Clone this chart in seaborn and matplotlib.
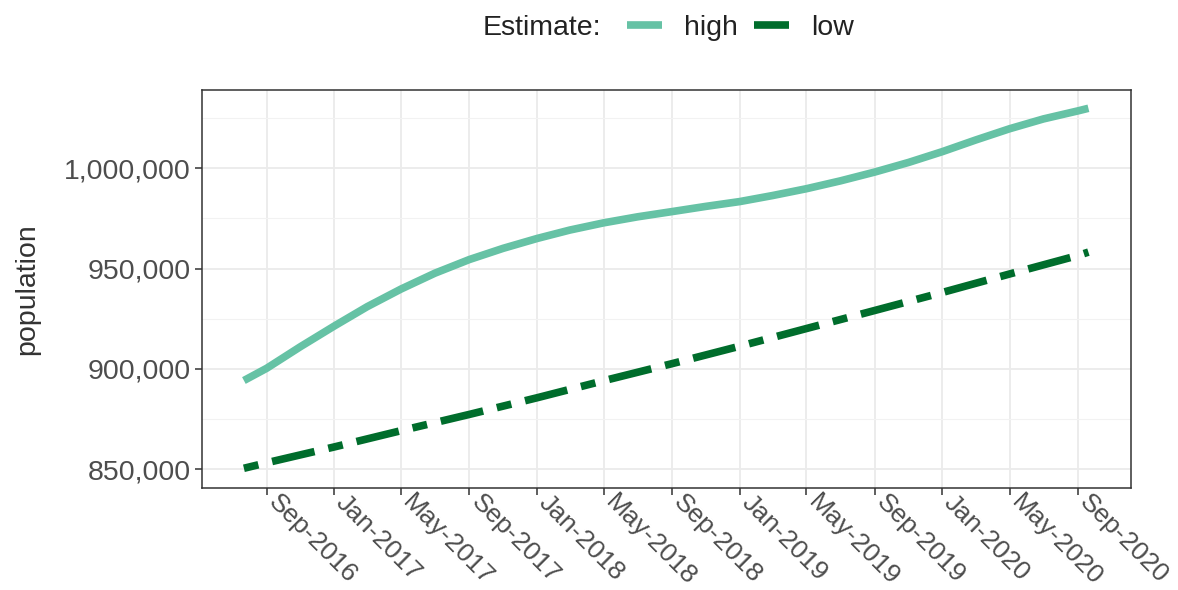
import numpy as np
import pandas as pd
import matplotlib
matplotlib.use("Agg")
import matplotlib.pyplot as plt
import matplotlib.dates as mdates
import matplotlib.ticker as mticker
import matplotlib.transforms as mtrans
from matplotlib.lines import Line2D
import seaborn as sns

sns.set_theme(style="whitegrid")
plt.rcParams['font.family'] = ['Liberation Sans', 'DejaVu Sans']

# values
high_dates = pd.to_datetime([
    "2016-07-22", "2016-09-01", "2016-11-01", "2017-01-01", "2017-03-01",
    "2017-05-01", "2017-07-01", "2017-09-01", "2017-11-01", "2018-01-01",
    "2018-03-01", "2018-05-01", "2018-07-01", "2018-09-01", "2018-11-01",
    "2019-01-01", "2019-03-01", "2019-05-01", "2019-07-01", "2019-09-01",
    "2019-11-01", "2020-01-01", "2020-03-01", "2020-05-01", "2020-07-01",
    "2020-09-01", "2020-09-20",
])
high = [894200, 900300, 911100, 921400, 931000, 939800, 947700, 954500,
        960100, 965000, 969200, 972800, 975800, 978400, 981000, 983400,
        986400, 989800, 993700, 998100, 1002900, 1008300, 1014100, 1019700,
        1024600, 1028600, 1029900]

low_dates = pd.to_datetime([
    "2016-07-22", "2016-09-01", "2017-01-01", "2017-05-01", "2017-09-01",
    "2018-01-01", "2018-05-01", "2018-09-01", "2019-01-01", "2019-05-01",
    "2019-09-01", "2020-01-01", "2020-05-01", "2020-09-01", "2020-09-20",
])
low = [850450, 853200, 861100, 869200, 877300, 885600, 894100, 902600,
       911300, 920100, 929100, 938100, 947300, 956500, 958200]

df = pd.DataFrame({
    "date": list(high_dates) + list(low_dates),
    "population": high + low,
    "Estimate": ["high"] * len(high) + ["low"] * len(low),
})

colors = {"high": "#66C2A5", "low": "#006D2C"}
lw = 5.5
fs = 20.5

fig = plt.figure(figsize=(11.78, 5.90), dpi=100)
ax = fig.add_axes([0.1712, 0.1724, 0.7886, 0.6751])

sns.lineplot(data=df, x="date", y="population", hue="Estimate", style="Estimate",
             palette=colors, dashes={"high": "", "low": (1.95, 1.85, 5.7, 1.85)},
             linewidth=lw, ax=ax, legend=False)
for line in ax.get_lines():
    line.set_solid_capstyle("butt")
    line.set_dash_capstyle("butt")
    line.set_solid_joinstyle("round")

ax.set_ylim(840480, 1039030)
ax.xaxis.set_major_locator(mdates.MonthLocator(bymonth=[1, 5, 9]))
ax.xaxis.set_major_formatter(mdates.DateFormatter("%b-%Y"))
ax.yaxis.set_major_locator(mticker.MultipleLocator(50000))
ax.yaxis.set_minor_locator(mticker.MultipleLocator(25000))
ax.yaxis.set_major_formatter(mticker.FuncFormatter(lambda v, p: f"{int(v):,}"))

ax.grid(which="major", color="#EBEBEB", linewidth=1.3)
ax.grid(which="minor", axis="y", color="#F2F2F2", linewidth=0.8)
ax.grid(which="minor", axis="x", visible=False)
for s in ax.spines.values():
    s.set_color("#333333")
    s.set_linewidth(1.1)

ax.tick_params(axis="both", which="major", length=5, width=1.1, color="#333333",
               labelsize=fs, labelcolor="#4D4D4D", pad=3, bottom=True, left=True)
ax.tick_params(axis="x", labelsize=19)
ax.tick_params(which="minor", length=0)

ax.set_xlabel("")
ax.set_ylabel("population", fontsize=fs, color="#333333")
ax.yaxis.set_label_coords(-0.174, 0.5)

fig.text(483 / 1178, 1 - 28 / 590, "Estimate:", fontsize=fs, color="#222222",
         ha="left", va="center")
handles = [Line2D([], [], color=colors["high"], linewidth=lw, solid_capstyle="butt"),
           Line2D([], [], color=colors["low"], linewidth=lw, solid_capstyle="butt")]
fig.legend(handles, ["high", "low"], loc="center left",
           bbox_to_anchor=(627 / 1178, 1 - 28 / 590), ncol=2, frameon=False,
           fontsize=fs, handlelength=1.23, handletextpad=0.78, columnspacing=0.55,
           borderpad=0, borderaxespad=0, labelcolor="#222222")

fig.canvas.draw()
shift = mtrans.ScaledTranslation(14 / 100, 9 / 100, fig.dpi_scale_trans)
for lab in ax.get_xticklabels():
    lab.set_rotation(-45)
    lab.set_ha("left")
    lab.set_va("top")
    lab.set_rotation_mode("anchor")
    lab.set_transform(lab.get_transform() + shift)

fig.savefig("out.png", dpi=100)
